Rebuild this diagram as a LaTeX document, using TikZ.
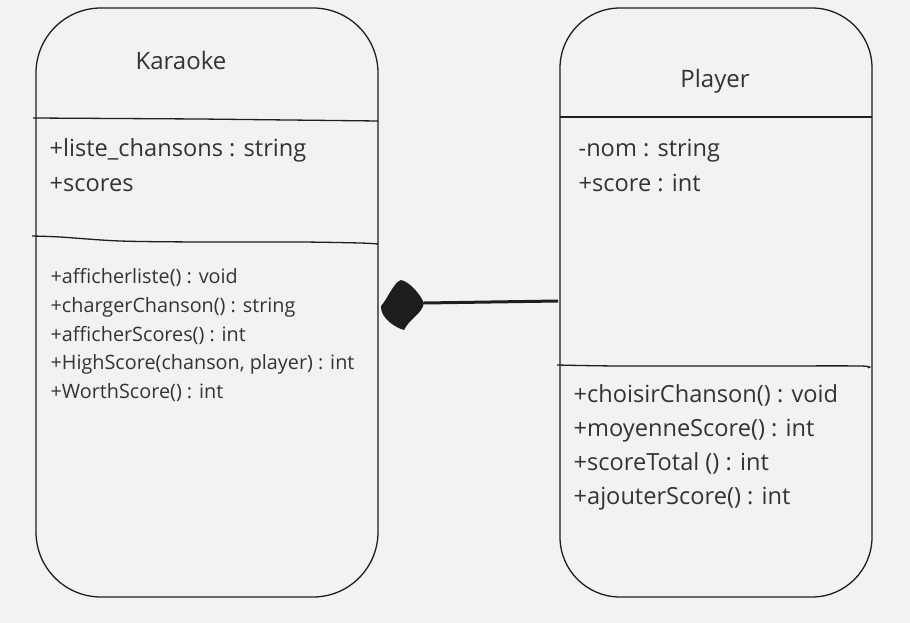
\documentclass[tikz,border=0pt]{standalone}
\usepackage{fontspec}
\setmainfont{Open Sans}
\usetikzlibrary{positioning}
\definecolor{uml-bg}{HTML}{F2F2F2}
\definecolor{uml-ink}{HTML}{1E1E1E}
\definecolor{uml-text}{HTML}{333333}

\begin{document}
\begin{tikzpicture}[x=1pt,y=-1pt,line width=1.3pt,draw=uml-ink,
    member/.style={anchor=base west,inner sep=0pt,text=uml-text,font=\fontsize{23.6}{23.6}\selectfont},
    method/.style={anchor=base west,inner sep=0pt,text=uml-text,font=\fontsize{19.8}{19.8}\selectfont},
    title/.style={anchor=base,inner sep=0pt,text=uml-text,font=\fontsize{24}{24}\selectfont}]
  % Hintergrund
  \fill[uml-bg] (0,0) rectangle (910,623);
  \useasboundingbox (0,0) rectangle (910,623);

  % Klasse Karaoke
  \draw[rounded corners=65pt] (36,8) rectangle (378,597);
  \draw (33,118) -- (200,119) -- (378,121);
  \draw plot[smooth] coordinates {(32,236) (60,237) (120,241) (200,242) (300,242) (360,243) (378,244)};
  \node[title] (kname) at (181,70) {Karaoke};
  \node[member] (ka1) at (49,157) {+liste\_chansons : string};
  \node[member] (ka2) at (49,191) {+scores};
  \foreach \y/\txt [count=\i] in {283/{+afficherliste() : void},
      312/{+chargerChanson() : string},
      341/{+afficherScores() : int},
      369/{+HighScore(chanson, player) : int},
      398/{+WorthScore() : int}} {
    \node[method] (km\i) at (50,\y) {\txt};
  }

  % Klasse Player
  \draw[rounded corners=60pt] (560,8) rectangle (872,597);
  \draw (560,117) -- (872,117);
  \draw plot[smooth] coordinates {(557,365) (620,366) (760,366) (860,366) (868,368)};
  \node[title] (pname) at (715,88) {Player};
  \node[member] (pa1) at (578,157) {-nom : string};
  \node[member] (pa2) at (578,191) {+score : int};
  \foreach \y/\txt [count=\i] in {402/{+choisirChanson() : void},
      436/{+moyenneScore() : int},
      470/{+scoreTotal () : int},
      504/{+ajouterScore() : int}} {
    \node[member] (pm\i) at (573,\y) {\txt};
  }

  % Komposition
  \coordinate (kside) at (381,306);
  \coordinate (dtip) at (424,303);
  \coordinate (pside) at (558,301);
  \fill[uml-ink] (kside) .. controls (388,298) and (394,282) .. (401,280)
    .. controls (410,282) and (420,294) .. (dtip)
    .. controls (422,314) and (410,318) .. (404,330)
    .. controls (396,328) and (380,318) .. cycle;
  \draw[line width=3pt] (dtip) -- (pside);
\end{tikzpicture}
\end{document}
